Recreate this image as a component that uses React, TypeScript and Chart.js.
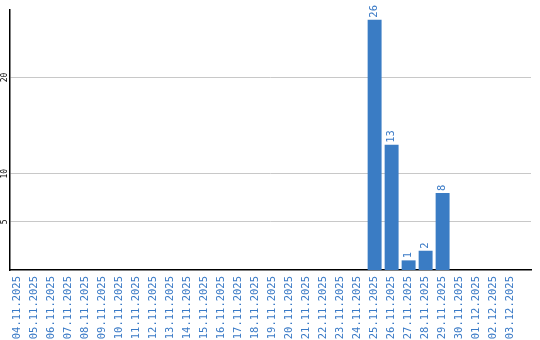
import React, { useEffect, useRef } from "react";
import { Chart, registerables } from "chart.js";

Chart.register(...registerables);

const categories = [
  "04.11.2025", "05.11.2025", "06.11.2025", "07.11.2025", "08.11.2025",
  "09.11.2025", "10.11.2025", "11.11.2025", "12.11.2025", "13.11.2025",
  "14.11.2025", "15.11.2025", "16.11.2025", "17.11.2025", "18.11.2025",
  "19.11.2025", "20.11.2025", "21.11.2025", "22.11.2025", "23.11.2025",
  "24.11.2025", "25.11.2025", "26.11.2025", "27.11.2025", "28.11.2025",
  "29.11.2025", "30.11.2025", "01.12.2025", "02.12.2025", "03.12.2025",
];
const values = [
  0, 0, 0, 0, 0, 0, 0, 0, 0, 0,
  0, 0, 0, 0, 0, 0, 0, 0, 0, 0,
  0, 26, 13, 1, 2, 8, 0, 0, 0, 0,
];
const yTicks = [5, 10, 20];

const BLUE = "#3a7cc4";
const LABEL_BLUE = "#3a7ac6";

const valueLabels = {
  id: "valueLabels",
  afterDatasetsDraw(chart: any) {
    const ctx = chart.ctx;
    const meta = chart.getDatasetMeta(0);
    ctx.save();
    ctx.fillStyle = LABEL_BLUE;
    ctx.font = "10.5px 'DejaVu Sans Mono'";
    ctx.textAlign = "left";
    ctx.textBaseline = "middle";
    meta.data.forEach((el: any, i: number) => {
      const v = values[i];
      if (!v) return;
      ctx.save();
      ctx.translate(el.x, el.y - 2);
      ctx.rotate(-Math.PI / 2);
      ctx.fillText(String(v), 0, 0);
      ctx.restore();
    });
    ctx.restore();
  },
};

export default function App() {
  const ref = useRef<HTMLCanvasElement | null>(null);
  useEffect(() => {
    if (!ref.current) return;
    const chart = new Chart(ref.current, {
      type: "bar",
      data: {
        datasets: [
          {
            data: values.map((v, i) => ({ x: i, y: v })),
            backgroundColor: BLUE,
            borderWidth: 0,
            barPercentage: 0.82,
            categoryPercentage: 1,
          },
        ],
      },
      options: {
        animation: false,
        responsive: false,
        layout: { padding: { top: 10, right: 9, left: 0, bottom: 0 } },
        plugins: { legend: { display: false }, tooltip: { enabled: false } },
        scales: {
          x: {
            type: "linear",
            offset: false,
            min: -0.45,
            max: 30.2,
            afterBuildTicks: (s: any) => {
              s.ticks = categories.map((_, i) => ({ value: i }));
            },
            afterFit: (s: any) => {
              s.height = 70;
            },
            grid: { display: false, drawTicks: false },
            border: { display: true, color: "#000", width: 1.5 },
            ticks: {
              autoSkip: false,
              minRotation: 90,
              maxRotation: 90,
              padding: 6,
              color: LABEL_BLUE,
              font: { family: "'DejaVu Sans Mono'", size: 10.5 },
              callback: (v: any) => categories[v] ?? "",
            },
          },
          y: {
            min: 0,
            max: 27,
            afterBuildTicks: (s: any) => {
              s.ticks = yTicks.map((v) => ({ value: v }));
            },
            afterFit: (s: any) => {
              s.width = 10;
            },
            grid: { color: "#c8c8c8", lineWidth: 1, drawTicks: false },
            border: { display: true, color: "#000", width: 1.5 },
            ticks: {
              minRotation: 90,
              maxRotation: 90,
              crossAlign: "center",
              padding: 0,
              color: "#000",
              font: { family: "'DejaVu Sans Mono'", size: 8 },
            },
          },
        },
      },
      plugins: [valueLabels],
    });
    return () => chart.destroy();
  }, []);
  return (
    <div style={{ position: "fixed", left: 0, top: 0, width: 540, height: 340 }}>
      <canvas ref={ref} width={540} height={340} style={{ width: 540, height: 340 }} />
    </div>
  );
}
